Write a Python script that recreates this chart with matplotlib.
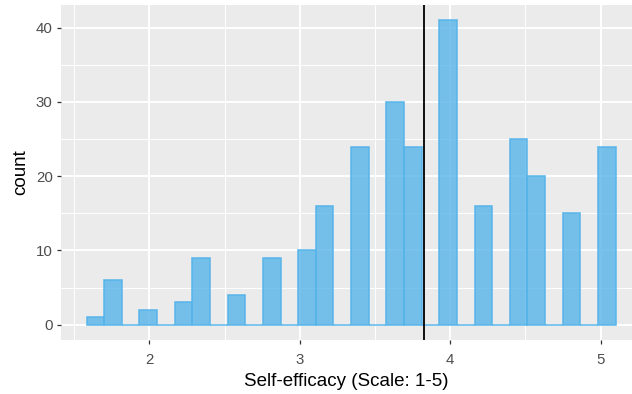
import numpy as np
import matplotlib
matplotlib.use("Agg")
import matplotlib.pyplot as plt

plt.rcParams['font.family'] = ['Liberation Sans', 'DejaVu Sans']

# scale range and per-bin counts (30 bins, ggplot default)
x_min, x_max = 1.6, 5.0
n_bins = 30
counts = [1, 6, 0, 2, 0, 3, 9, 0, 4, 0,
          9, 0, 10, 16, 0, 24, 0, 30, 24, 0,
          41, 0, 16, 0, 25, 20, 0, 15, 0, 24]
mean_value = 3.826

# ggplot-style bin breaks
width = (x_max - x_min) / (n_bins - 1)
boundary = width / 2
shift = np.floor((x_min - boundary) / width)
origin = boundary + shift * width
edges = origin + width * np.arange(n_bins + 1)

fig = plt.figure(figsize=(6.32, 3.94), dpi=100)
ax = fig.add_axes([61 / 632, 54 / 394, 1 - 61 / 632, 335 / 394])
ax.set_facecolor('#EBEBEB')

ax.bar(edges[:-1], counts, width=width, align='edge',
       color=(86/255, 180/255, 233/255, 0.8),
       edgecolor=(86/255, 180/255, 233/255, 0.9), linewidth=1.2, zorder=3)
ax.axvline(mean_value, color='black', linewidth=1.3, zorder=4)

ax.set_xlim(1.413, 5.209)
ax.set_ylim(-2.05, 43.05)

ax.set_xticks([2, 3, 4, 5])
ax.set_yticks([0, 10, 20, 30, 40])
ax.set_xticks([1.5, 2.5, 3.5, 4.5], minor=True)
ax.set_yticks([5, 15, 25, 35], minor=True)
ax.grid(which='major', color='white', linewidth=1.4, zorder=0)
ax.grid(which='minor', color='white', linewidth=0.7, zorder=0)
ax.set_axisbelow(True)

for s in ax.spines.values():
    s.set_visible(False)

ax.tick_params(which='major', length=3, width=0.9, color='#333333',
               labelcolor='#4D4D4D', labelsize=10.8)
ax.tick_params(axis='x', which='major', pad=6)
ax.tick_params(axis='y', which='major', pad=3)
ax.tick_params(which='minor', length=0)

ax.set_xlabel('Self-efficacy (Scale: 1-5)', fontsize=13.5, color='black', labelpad=4.5)
ax.set_ylabel('count', fontsize=13.5, color='black', labelpad=4.5)

fig.savefig('out.png', dpi=100)
